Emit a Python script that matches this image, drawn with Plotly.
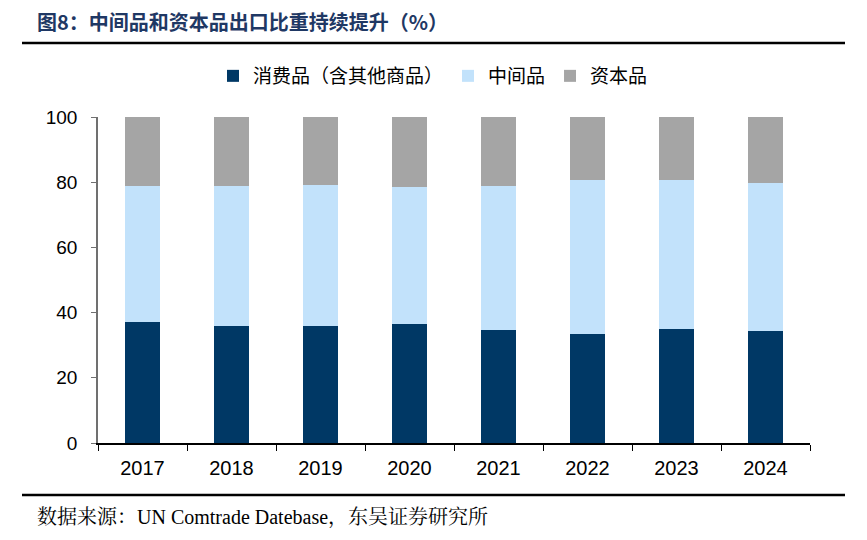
import plotly.graph_objects as go

years = ["2017", "2018", "2019", "2020", "2021", "2022", "2023", "2024"]
consumer = [37.0, 35.9, 36.0, 36.6, 34.7, 33.5, 35.1, 34.4]
intermediate = [41.8, 43.0, 43.1, 41.8, 44.1, 47.1, 45.7, 45.5]
capital = [21.2, 21.1, 20.9, 21.6, 21.2, 19.4, 19.2, 20.1]
names = ["消费品（含其他商品）", "中间品", "资本品"]
colors = ["#003865", "#C2E2FB", "#A5A5A5"]

OFF = 8  # page body margin
W, H = 867 - 2 * OFF, 540 - 2 * OFF
L, R, T, B = 98 - OFF, 810 - OFF, 117 - OFF, 443 - OFF

def px(x):
    return (x - OFF - L) / (R - L)

def py(y):
    return (B - (y - OFF)) / (B - T)

fig = go.Figure()
for name, vals, c in zip(names, [consumer, intermediate, capital], colors):
    fig.add_trace(go.Bar(x=years, y=vals, name=name, marker=dict(color=c, line=dict(width=0)),
                         width=0.4))

fig.update_layout(
    width=W, height=H,
    barmode="stack",
    plot_bgcolor="white", paper_bgcolor="white",
    margin=dict(l=L, r=W - R, t=T, b=H - B, pad=0),
    font=dict(family="Liberation Sans, Arial, sans-serif", size=19, color="black"),
    legend=dict(orientation="h", x=px(433), y=py(76), xanchor="center", yanchor="middle",
                font=dict(family="Noto Sans CJK SC", size=19, color="black"),
                itemwidth=30, traceorder="normal", bgcolor="rgba(0,0,0,0)"),
    xaxis=dict(type="category", showline=True, linecolor="black", linewidth=1.5,
               ticks="outside", tickson="boundaries", ticklen=6, tickcolor="black",
               showgrid=False, tickfont=dict(size=20), ticklabelstandoff=6),
    yaxis=dict(range=[0, 100], dtick=20, showline=True, linecolor="#707070", linewidth=1.5,
               ticks="outside", ticklen=5, tickcolor="#707070", showgrid=False, zeroline=False,
               tickfont=dict(size=19), ticklabelstandoff=10),
)

fig.add_annotation(text="<b>图8：中间品和资本品出口比重持续提升（%）</b>", xref="paper", yref="paper",
                   x=px(35), y=py(22), xanchor="left", yanchor="middle", showarrow=False,
                   font=dict(family="Noto Sans CJK SC", size=20, color="#1F3864"))
fig.add_annotation(text="数据来源：UN Comtrade Datebase，东吴证券研究所", xref="paper", yref="paper",
                   x=px(35), y=py(517), xanchor="left", yanchor="middle", showarrow=False,
                   font=dict(family="Liberation Serif, Noto Serif CJK SC, Noto Sans CJK SC", size=20, color="black"))
for yy in (43, 495):
    fig.add_shape(type="line", xref="paper", yref="paper", x0=px(22), x1=px(845), y0=py(yy), y1=py(yy),
                  line=dict(color="black", width=2.5))

fig.write_html("out.html")
